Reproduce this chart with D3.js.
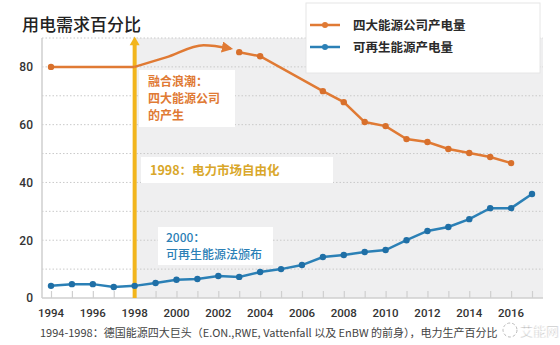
<!DOCTYPE html>
<meta charset="utf-8">
<title>用电需求百分比</title>
<style>
    body {
        margin: 0;
        background: #fff;
        font-family: "Noto Sans CJK SC", "Noto Sans", sans-serif;
    }

    svg {
        display: block;
    }

    .grid line {
        stroke: #c9c9c9;
        stroke-dasharray: 1.5 2;
    }

    .tick-num {
        font-family: Roboto, "Noto Sans", sans-serif;
        font-weight: 500;
        fill: #333;
    }
</style>

<body>
    <svg width="560" height="345"></svg>

    <script src="https://d3js.org/d3.v7.min.js"></script>
    <script>
        // data
        const orangeYears = [1994, 1998, 2003, 2004, 2007, 2008, 2009, 2010, 2011, 2012, 2013, 2014, 2015, 2016];
        const orangeVals = [80, 80, 85.1, 83.7, 71.6, 67.8, 60.9, 59.5, 55.0, 54.0, 51.6, 50.2, 48.8, 46.7];

        // merger wave bump between 1998 and 2003 (drawn with an arrow)
        const mergeYears = [1998, 1999.5, 2001.3, 2002.6];
        const mergeVals = [80, 83.3, 87.5, 86.3];

        const blueYears = d3.range(1994, 2018);
        const blueVals = [4.2, 4.8, 4.8, 3.8, 4.2, 5.2, 6.3, 6.6, 7.6, 7.3, 9.0, 10.0, 11.4, 14.2, 14.9, 15.9, 16.6, 20.0, 23.2, 24.6, 27.3, 31.1, 31.1, 36.0];

        const yTicks = [0, 20, 40, 60, 80];
        const gridVals = [10, 20, 30, 40, 50, 60, 70, 80, 90];
        const xTickYears = d3.range(1994, 2017, 2);

        const orange = "#e07a34";
        const blue = "#2b80b6";
        const gold = "#f2b51c";

        const svg = d3.select("svg");

        const x = d3.scaleLinear().domain([1994, 2017]).range([51, 532]);
        const y = d3.scaleLinear().domain([0, 90]).range([298, 38]);

        const left = 42, right = 543;

        // gray plot background from 1998 on
        svg.append("rect")
            .attr("x", x(1998)).attr("y", y(90))
            .attr("width", right - x(1998)).attr("height", y(0) - y(90))
            .attr("fill", "#efeff0");

        // dotted grid
        svg.append("g").attr("class", "grid")
            .selectAll("line")
            .data(gridVals)
            .join("line")
            .attr("x1", left).attr("x2", right)
            .attr("y1", d => y(d)).attr("y2", d => y(d));

        // axis lines
        svg.append("line")
            .attr("x1", left).attr("x2", left)
            .attr("y1", y(90)).attr("y2", y(0))
            .attr("stroke", "#cfcfcf").attr("stroke-width", 1.5);

        const xAxis = svg.append("g")
            .attr("transform", `translate(0,${y(0)})`)
            .call(d3.axisBottom(x).tickValues(d3.range(1994, 2018)).tickSize(-7).tickFormat(""));
        xAxis.select(".domain").attr("d", `M${left},0H${right}`).attr("stroke", "#cfcfcf").attr("stroke-width", 1.5);
        xAxis.selectAll(".tick line").attr("stroke", "#cfcfcf").attr("stroke-width", 1.2);

        svg.append("g")
            .selectAll("text")
            .data(xTickYears)
            .join("text")
            .attr("class", "tick-num")
            .attr("x", d => x(d))
            .attr("y", 317)
            .attr("text-anchor", "middle")
            .attr("font-size", 11.5)
            .text(d => d);

        svg.append("g")
            .selectAll("text")
            .data(yTicks)
            .join("text")
            .attr("class", "tick-num")
            .attr("x", 33)
            .attr("y", d => y(d))
            .attr("dy", "0.36em")
            .attr("text-anchor", "end")
            .attr("font-size", 12)
            .text(d => d);

        // title
        svg.append("text")
            .attr("x", 22).attr("y", 31)
            .attr("font-size", 17)
            .attr("font-weight", 500)
            .attr("fill", "#222")
            .text("用电需求百分比");

        // annotation boxes
        function note(bx, by, bw, bh, lines, color, size, weight) {
            svg.append("rect")
                .attr("x", bx).attr("y", by)
                .attr("width", bw).attr("height", bh)
                .attr("fill", "#fff");
            lines.forEach(t => {
                svg.append("text")
                    .attr("x", t.x).attr("y", t.y)
                    .attr("font-size", size)
                    .attr("font-weight", weight)
                    .attr("fill", color)
                    .text(t.s);
            });
        }

        note(139, 70, 96, 57, [
            { s: "融合浪潮：", x: 148, y: 86 },
            { s: "四大能源公司", x: 148, y: 103 },
            { s: "的产生", x: 148, y: 120 }
        ], orange, 12, 700);

        note(141, 157, 192, 26, [
            { s: "1998：电力市场自由化", x: 150, y: 175 }
        ], "#d9a72a", 12.5, 700);

        note(158, 227, 115, 38, [
            { s: "2000：", x: 166, y: 242 },
            { s: "可再生能源法颁布", x: 166, y: 259 }
        ], blue, 12, 500);

        // markers
        const defs = svg.append("defs");
        defs.append("marker")
            .attr("id", "arrO")
            .attr("viewBox", "0 0 10 10")
            .attr("refX", 8).attr("refY", 5)
            .attr("markerWidth", 4.5).attr("markerHeight", 4.5)
            .attr("markerUnits", "strokeWidth")
            .attr("orient", "auto")
            .append("path").attr("d", "M0,0L10,5L0,10z").attr("fill", orange);

        // gold 1998 line with arrow
        svg.append("line")
            .attr("x1", x(1998)).attr("x2", x(1998))
            .attr("y1", y(0)).attr("y2", y(88))
            .attr("stroke", gold).attr("stroke-width", 4);
        svg.append("path")
            .attr("d", `M${x(1998) - 5},${y(87.5)}L${x(1998)},${y(90.5)}L${x(1998) + 5},${y(87.5)}Z`)
            .attr("fill", gold);

        // orange series
        const orangeData = orangeYears.map((yr, i) => ({ yr, v: orangeVals[i] }));
        const mergeData = mergeYears.map((yr, i) => ({ yr, v: mergeVals[i] }));
        const blueData = blueYears.map((yr, i) => ({ yr, v: blueVals[i] }));

        const line = d3.line().x(d => x(d.yr)).y(d => y(d.v));

        svg.append("path")
            .datum(orangeData.slice(0, 2))
            .attr("d", line)
            .attr("fill", "none").attr("stroke", orange).attr("stroke-width", 2.5);

        svg.append("path")
            .datum(mergeData)
            .attr("d", line.curve(d3.curveMonotoneX))
            .attr("fill", "none").attr("stroke", orange).attr("stroke-width", 2.5)
            .attr("marker-end", "url(#arrO)");
        line.curve(d3.curveLinear);

        svg.append("path")
            .datum(orangeData.slice(2))
            .attr("d", line)
            .attr("fill", "none").attr("stroke", orange).attr("stroke-width", 2.5);

        svg.append("g")
            .selectAll("circle")
            .data(orangeData.filter(d => d.yr !== 1998))
            .join("circle")
            .attr("cx", d => x(d.yr)).attr("cy", d => y(d.v))
            .attr("r", 3.2)
            .attr("fill", "#d8702c");

        // blue series
        svg.append("path")
            .datum(blueData)
            .attr("d", line)
            .attr("fill", "none").attr("stroke", blue).attr("stroke-width", 2.5);

        svg.append("g")
            .selectAll("circle")
            .data(blueData)
            .join("circle")
            .attr("cx", d => x(d.yr)).attr("cy", d => y(d.v))
            .attr("r", 3.2)
            .attr("fill", "#1f6fa6");

        // legend
        const lg = svg.append("g");
        lg.append("rect")
            .attr("x", 306).attr("y", 3)
            .attr("width", 234).attr("height", 70)
            .attr("fill", "#fff")
            .attr("stroke", "#e6e6e6");
        [
            { label: "四大能源公司产电量", c: orange, cy: 25 },
            { label: "可再生能源产电量", c: blue, cy: 47 }
        ].forEach(e => {
            lg.append("line")
                .attr("x1", 310).attr("x2", 340)
                .attr("y1", e.cy).attr("y2", e.cy)
                .attr("stroke", e.c).attr("stroke-width", 2.5);
            lg.append("circle")
                .attr("cx", 325).attr("cy", e.cy).attr("r", 3)
                .attr("fill", e.c);
            lg.append("text")
                .attr("x", 353).attr("y", e.cy)
                .attr("dy", "0.36em")
                .attr("font-size", 12.5)
                .attr("font-weight", 700)
                .attr("fill", "#2a2a2a")
                .text(e.label);
        });

        // footnote
        svg.append("text")
            .attr("x", 40).attr("y", 337)
            .attr("font-size", 11)
            .attr("fill", "#444")
            .text("1994-1998：德国能源四大巨头（E.ON.,RWE, Vattenfall 以及 EnBW 的前身），电力生产百分比");

        // watermark
        svg.append("circle")
            .attr("cx", 510).attr("cy", 330).attr("r", 7)
            .attr("fill", "none").attr("stroke", "#bbb").attr("stroke-dasharray", "3 2");
        svg.append("text")
            .attr("x", 520).attr("y", 336)
            .attr("font-size", 13)
            .attr("fill", "#999")
            .attr("stroke", "#fff").attr("stroke-width", 0.6)
            .text("艾能网");
    </script>
</body>

</html>
